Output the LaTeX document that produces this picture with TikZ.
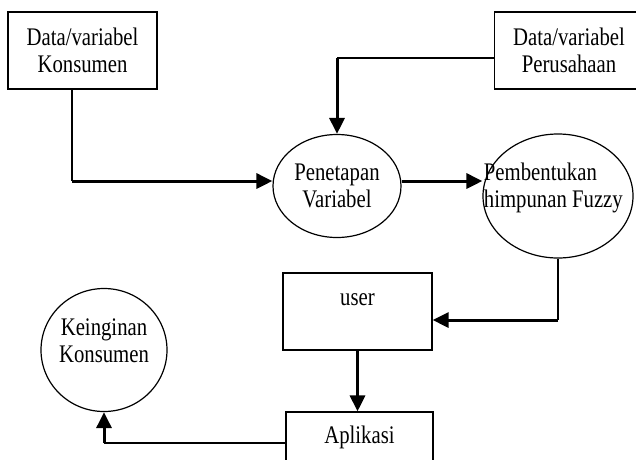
\documentclass[tikz,border=0pt]{standalone}
\usepackage{fontspec}
\setmainfont[FakeStretch=0.82]{Liberation Serif}
\usetikzlibrary{arrows.meta,shapes.geometric}
\begin{document}
\begin{tikzpicture}[x=1pt,y=-1pt,
    box/.style={draw,line width=1.2pt,minimum width=149pt,minimum height=77pt,inner sep=0pt},
    oval/.style={draw,ellipse,line width=1.2pt,inner sep=0pt},
    txt/.style={align=center,font=\fontsize{25.3}{27}\selectfont},
    link/.style={line width=1.2pt},
    flow/.style={line width=3pt,-{Triangle[length=16pt,width=15pt]}}]
      \useasboundingbox (0,0) rectangle (636,459);
      \node[box,txt] (dk) at (82.5,50.5) {Data/variabel\\Konsumen};
      \node[box,txt] (dp) at (569,50.5) {Data/variabel\\Perusahaan};
      \node[oval,txt,minimum width=128pt,minimum height=103pt] (pv) at (337,186) {Penetapan\\Variabel};
      \node[oval,minimum width=150pt,minimum height=124pt,
        label={[txt,align=left,anchor=west,xshift=-2pt,yshift=8.5pt]west:Pembentukan\\himpunan Fuzzy}] (pf) at (558,196) {};
      \node[box,label={[txt,yshift=11.5pt]center:user}] (user) at (357.5,311.5) {};
      \node[box,minimum width=147pt,label={[txt,yshift=13.5pt]center:Aplikasi}] (apl) at (359.5,450.5) {};
      \node[oval,minimum width=126pt,minimum height=123pt,
        label={[txt,yshift=9pt]center:Keinginan\\Konsumen}] (kk) at (104,350) {};
      \coordinate (k1) at (72,181);
      \coordinate (p1) at (337,58);
      \coordinate (u1) at (558,320);
      \coordinate (a1) at (104,443);
      \begin{scope}
        \draw[link] (dk.south -| k1) -- (k1);
        \draw[flow] (k1) -- (k1 -| pv.west);
        \draw[link] (dp.west |- p1) -- (p1);
        \draw[flow] (p1) -- (pv.north);
        \draw[flow] ([yshift=5pt]pv.east) -- ([yshift=5pt]pv.east -| pf.west);
        \draw[link] (pf.south) -- (u1);
        \draw[flow] (u1) -- (u1 -| user.east);
        \draw[flow] (user.south) -- (user.south |- apl.north);
        \draw[link] (apl.west |- a1) -- (a1);
        \draw[flow] (a1) -- (kk.south);
      \end{scope}
\end{tikzpicture}
\end{document}
